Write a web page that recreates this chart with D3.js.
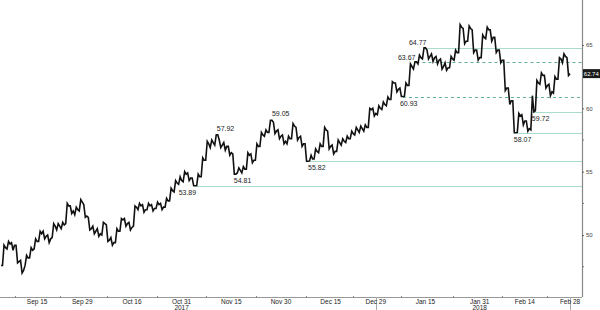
<!DOCTYPE html>
<html>
<head>
<meta charset="utf-8">
<script src="https://cdn.jsdelivr.net/npm/d3@7"></script>
<style>
  body { margin: 0; background: #fff; }
  svg { display: block; font-family: "Liberation Sans", Arial, sans-serif; }
</style>
</head>
<body>
<div id="chart"></div>
<script>
// trading days from start to end (weekdays), one close / high / low per day
const startDate = "2017-09-05";
const endDate = "2018-02-28";

const closes = [
  47.6, 49.0, 49.3, 49.2, 47.9, 47.2, 48.2, 48.8, 49.5, 50.1,
  49.9, 49.7, 50.7, 50.7, 50.8, 52.3, 51.9, 52.0, 52.6, 51.5,
  50.5, 50.3, 50.1, 50.9, 49.6, 49.4, 50.3, 51.2, 50.9, 50.6,
  52.2, 52.3, 52.0, 52.3, 52.1, 52.4, 52.2, 52.7, 53.5, 54.1,
  54.3, 54.8, 54.5, 53.89, 54.6, 55.9, 57.2, 57.3, 57.92, 57.1,
  57.0, 56.5, 54.81, 55.1, 55.2, 56.3, 55.9, 57.0, 57.9, 58.1,
  59.05, 58.2, 57.8, 57.4, 57.6, 58.6, 57.7, 57.2, 55.82, 56.0,
  56.6, 57.0, 58.3, 57.0, 56.6, 57.3, 57.4, 57.6, 58.0, 58.3,
  58.4, 58.5, 59.9, 59.6, 60.0, 60.3, 60.7, 62.0, 61.5, 60.93,
  61.8, 63.3, 63.67, 64.0, 64.77, 64.1, 64.0, 63.8, 63.3, 63.2,
  63.9, 64.4, 66.4, 65.3, 66.3, 64.6, 64.0, 65.6, 66.2, 65.6,
  64.6, 63.8, 61.6, 60.6, 58.07, 59.4, 59.0, 58.4, 59.72, 62.0,
  62.6, 61.8, 61.3, 62.3, 63.9, 64.1, 62.74
];
const highs = [
  48.0, 49.2, 49.5, 49.4, 49.2, 48.0, 48.4, 49.0, 49.7, 50.3,
  50.3, 50.0, 50.9, 50.9, 51.0, 52.5, 52.3, 52.2, 52.8, 52.4,
  51.4, 50.7, 50.5, 51.0, 50.8, 49.8, 50.5, 51.3, 51.3, 51.0,
  52.3, 52.5, 52.4, 52.5, 52.4, 52.6, 52.5, 52.9, 53.7, 54.3,
  54.6, 55.0, 54.9, 54.5, 54.8, 56.1, 57.4, 57.5, 57.92, 57.5,
  57.3, 57.0, 56.4, 55.3, 55.4, 56.5, 56.4, 57.2, 58.1, 58.3,
  59.05, 58.9, 58.3, 57.9, 57.8, 58.8, 58.5, 57.8, 57.2, 56.3,
  56.8, 57.2, 58.5, 58.2, 57.1, 57.5, 57.6, 57.8, 58.2, 58.5,
  58.6, 58.7, 60.0, 60.0, 60.2, 60.5, 60.9, 62.1, 62.0, 61.6,
  62.0, 63.5, 63.67, 64.2, 64.77, 64.6, 64.3, 64.1, 63.9, 63.6,
  64.1, 64.6, 66.6, 66.3, 66.5, 66.2, 64.6, 65.8, 66.4, 66.2,
  65.6, 64.6, 63.8, 61.6, 60.6, 59.6, 59.5, 59.0, 61.0, 62.2,
  62.8, 62.6, 61.9, 62.5, 64.0, 64.3, 64.0
];
const lows = [
  47.4, 47.6, 48.9, 48.8, 47.8, 47.0, 47.6, 48.2, 48.9, 49.5,
  49.7, 49.4, 49.8, 50.4, 50.5, 50.9, 51.7, 51.6, 51.9, 51.4,
  50.4, 50.1, 49.9, 50.0, 49.5, 49.2, 49.4, 50.3, 50.7, 50.4,
  50.7, 52.0, 51.8, 52.0, 51.9, 52.1, 52.0, 52.2, 52.7, 53.4,
  54.0, 54.2, 54.3, 53.89, 53.9, 54.6, 55.9, 56.9, 57.1, 56.9,
  56.7, 56.3, 54.81, 54.9, 54.9, 55.2, 55.7, 55.9, 57.0, 57.8,
  58.1, 58.0, 57.6, 57.2, 57.2, 57.6, 57.5, 57.0, 55.82, 55.85,
  56.0, 56.5, 57.0, 56.8, 56.4, 56.6, 57.1, 57.3, 57.6, 57.9,
  58.1, 58.2, 58.5, 59.4, 59.5, 59.9, 60.2, 60.7, 61.3, 60.93,
  60.95, 61.8, 63.1, 63.5, 63.9, 63.9, 63.7, 63.5, 63.1, 63.0,
  63.2, 63.8, 64.4, 65.1, 65.3, 64.4, 63.8, 64.0, 65.5, 65.3,
  64.4, 63.6, 61.4, 60.3, 58.07, 58.1, 58.7, 58.2, 58.3, 59.8,
  61.9, 61.6, 61.0, 61.2, 62.3, 63.6, 62.6
];

const tickDates = ["2017-09-15", "2017-09-29", "2017-10-16", "2017-10-31", "2017-11-15", "2017-11-30",
  "2017-12-15", "2017-12-29", "2018-01-15", "2018-01-31", "2018-02-14", "2018-02-28"];
const tickLabels = ["Sep 15", "Sep 29", "Oct 16", "Oct 31", "Nov 15", "Nov 30",
  "Dec 15", "Dec 29", "Jan 15", "Jan 31", "Feb 14", "Feb 28"];
const yearDates = ["2017-10-31", "2018-01-31"];
const yearLabels = ["2017", "2018"];
const dividerDates = ["2017-12-29", "2018-02-28"];

const yTicks = [50, 55, 60, 65];
const yMinor = [47.5, 52.5, 57.5, 62.5];

// highs / lows that are labelled on the chart
const annoValues = [53.89, 57.92, 54.81, 59.05, 55.82, 60.93, 63.67, 64.77, 58.07, 59.72];
const annoIndex = [43, 48, 52, 60, 68, 89, 92, 94, 114, 118];
const solidLevels = [53.89, 55.82, 64.77, 58.07, 59.72];
const dashedLevels = [60.93, 63.67];

const lastValue = 62.74;

const W = 600, H = 310;
const axisX = 582, axisY = 297;

// weekday calendar
const parse = d3.timeParse("%Y-%m-%d");
const days = d3.timeDay.range(parse(startDate), d3.timeDay.offset(parse(endDate), 1))
  .filter(d => d.getDay() !== 0 && d.getDay() !== 6);
const fmt = d3.timeFormat("%Y-%m-%d");
const dayIndex = new Map(days.map((d, i) => [fmt(d), i]));

const x = d3.scaleLinear().domain([0, days.length - 1]).range([1, 570]);
const y = d3.scaleLinear().domain([45.11, 68.55]).range([axisY, 0]);

const svg = d3.select("#chart").append("svg")
  .attr("width", W)
  .attr("height", H);

svg.append("rect").attr("width", W).attr("height", H).attr("fill", "#fff");

// level lines
const levelG = svg.append("g");
annoValues.forEach((v, i) => {
  let stroke = null, dash = null;
  if (solidLevels.includes(v)) stroke = "#a9dccd";
  if (dashedLevels.includes(v)) { stroke = "#5fae9e"; dash = "3,3"; }
  if (!stroke) return;
  levelG.append("line")
    .attr("x1", x(annoIndex[i])).attr("x2", axisX)
    .attr("y1", Math.round(y(v)) + 0.5).attr("y2", Math.round(y(v)) + 0.5)
    .attr("stroke", stroke)
    .attr("stroke-width", 1)
    .attr("stroke-dasharray", dash);
});

// price path: within each day pass through the low and high, in the order of the move
const pts = [[0, closes[0]]];
closes.forEach((c, i) => {
  if (i === 0) return;
  const up = c >= closes[i - 1];
  const a = up ? lows[i] : highs[i];
  const b = up ? highs[i] : lows[i];
  pts.push([i - 0.67, a], [i - 0.33, b], [i, c]);
});

const line = d3.line()
  .x(d => x(d[0]))
  .y(d => y(d[1]));

svg.append("path")
  .datum(pts)
  .attr("fill", "none")
  .attr("stroke", "#111")
  .attr("stroke-width", 1.6)
  .attr("stroke-linejoin", "miter")
  .attr("d", line);

// annotation labels
const labelPos = {
  "53.89": { anchor: "end", dx: 1, dy: 9 },
  "57.92": { anchor: "start", dx: -1, dy: -4 },
  "54.81": { anchor: "start", dx: -2, dy: 9 },
  "59.05": { anchor: "start", dx: 0, dy: -4 },
  "55.82": { anchor: "start", dx: 0, dy: 9 },
  "60.93": { anchor: "start", dx: -3, dy: 9 },
  "63.67": { anchor: "end", dx: -1, dy: -2 },
  "64.77": { anchor: "end", dx: 1, dy: -3 },
  "58.07": { anchor: "start", dx: -2, dy: 9 },
  "59.72": { anchor: "start", dx: -2, dy: 9 }
};
annoValues.forEach((v, i) => {
  const p = labelPos[v.toFixed(2)];
  svg.append("text")
    .attr("x", x(annoIndex[i]) + p.dx)
    .attr("y", y(v) + p.dy)
    .attr("text-anchor", p.anchor)
    .attr("font-size", 7)
    .attr("fill", "#222")
    .text(v.toFixed(2));
});

// right axis
const yAxis = svg.append("g")
  .attr("transform", `translate(${axisX},0)`)
  .call(d3.axisRight(y).tickValues(yTicks).tickSize(2).tickPadding(2));
yAxis.select(".domain").attr("stroke", "#888").attr("stroke-width", 1.2)
  .attr("d", `M0.5,0V${axisY}`);
yAxis.selectAll(".tick line").attr("stroke", "#666");
yAxis.selectAll(".tick text").attr("font-size", 6).attr("fill", "#444")
  .attr("font-family", "Liberation Sans, Arial, sans-serif");

svg.append("g")
  .attr("transform", `translate(${axisX},0)`)
  .selectAll("line").data(yMinor).join("line")
  .attr("x1", 0.5).attr("x2", 2)
  .attr("y1", d => y(d)).attr("y2", d => y(d))
  .attr("stroke", "#777");

// last price tag
const tagY = y(lastValue);
svg.append("rect")
  .attr("x", axisX + 1).attr("y", tagY - 4.5)
  .attr("width", W - axisX - 1).attr("height", 9)
  .attr("fill", "#1a1a1a");
svg.append("text")
  .attr("x", axisX + 1.8).attr("y", tagY + 2.2)
  .attr("font-size", 5.8).attr("fill", "#fff")
  .attr("textLength", 15).attr("lengthAdjust", "spacingAndGlyphs")
  .text(lastValue.toFixed(2));

// bottom axis
const tickIdx = tickDates.map(d => dayIndex.get(d));
const sepIdx = [tickIdx[0] - 5].concat(tickIdx.slice(1).map((t, i) => (t + tickIdx[i]) / 2));

svg.append("line")
  .attr("x1", 0).attr("x2", axisX)
  .attr("y1", axisY + 0.5).attr("y2", axisY + 0.5)
  .attr("stroke", "#999");

svg.append("g").selectAll("line").data(sepIdx).join("line")
  .attr("x1", d => Math.round(x(d)) + 0.5).attr("x2", d => Math.round(x(d)) + 0.5)
  .attr("y1", axisY - 1).attr("y2", axisY + 1)
  .attr("stroke", "#888");

svg.append("g").selectAll("line").data(dividerDates).join("line")
  .attr("x1", d => Math.round(x(dayIndex.get(d))) + 0.5)
  .attr("x2", d => Math.round(x(dayIndex.get(d))) + 0.5)
  .attr("y1", axisY).attr("y2", H)
  .attr("stroke", "#aaa");

svg.append("g").selectAll("text").data(tickLabels).join("text")
  .attr("x", (d, i) => x(tickIdx[i]))
  .attr("y", axisY + 6.5)
  .attr("text-anchor", "middle")
  .attr("font-size", 6.5)
  .attr("fill", "#222")
  .text(d => d);

svg.append("g").selectAll("text").data(yearLabels).join("text")
  .attr("x", (d, i) => x(dayIndex.get(yearDates[i])))
  .attr("y", axisY + 12.5)
  .attr("text-anchor", "middle")
  .attr("font-size", 6.5)
  .attr("fill", "#222")
  .text(d => d);
</script>
</body>
</html>
